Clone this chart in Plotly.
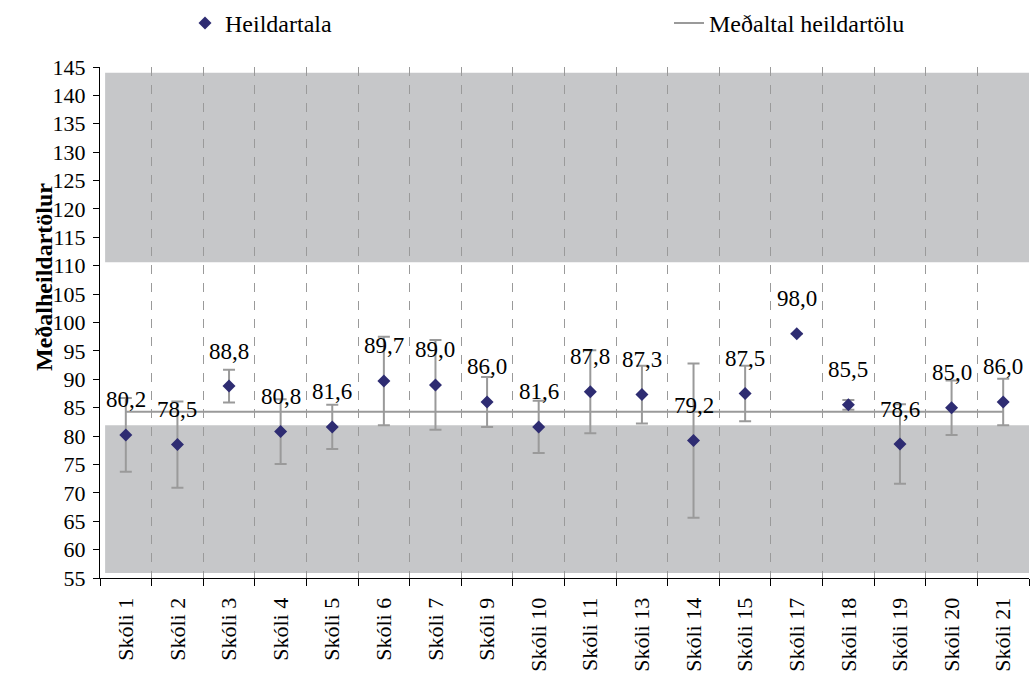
import plotly.graph_objects as go

categories = ["Skóli 1", "Skóli 2", "Skóli 3", "Skóli 4", "Skóli 5", "Skóli 6",
              "Skóli 7", "Skóli 9", "Skóli 10", "Skóli 11", "Skóli 13", "Skóli 14",
              "Skóli 15", "Skóli 17", "Skóli 18", "Skóli 19", "Skóli 20", "Skóli 21"]
values = [80.2, 78.5, 88.8, 80.8, 81.6, 89.7, 89.0, 86.0, 81.6, 87.8, 87.3, 79.2,
          87.5, 98.0, 85.5, 78.6, 85.0, 86.0]
errors = [6.5, 7.6, 2.9, 5.7, 3.9, 7.8, 7.9, 4.4, 4.6, 7.3, 5.1, 13.6,
          4.9, 0.0, 0.85, 7.0, 4.8, 4.1]
mean_value = 84.3
mean_values = [mean_value] * len(categories)
band_low = [55.9, 81.9]
band_high = [110.6, 144.0]
y_ticks = list(range(55, 150, 5))

FONT = "Liberation Serif, Times New Roman, serif"
fig = go.Figure()

fig.add_trace(go.Scatter(
    x=categories, y=mean_values, mode="lines", name="Meðaltal heildartölu",
    line=dict(color="#9A9A9A", width=2), legend="legend2", hoverinfo="skip"))

fig.add_trace(go.Scatter(
    x=categories, y=values, mode="markers", name="Heildartala",
    marker=dict(symbol="diamond", size=10, color="#2E2C72"),
    error_y=dict(type="data", array=errors, visible=True, color="#9A9A9A",
                 thickness=2, width=6),
    legend="legend"))

for band in (band_low, band_high):
    fig.add_shape(type="rect", xref="paper", yref="y", x0=0.0055, x1=1,
                  y0=band[0], y1=band[1], fillcolor="#C6C7C9",
                  line=dict(width=0), layer="between")

for c, v in zip(categories, values):
    fig.add_annotation(x=c, y=v, text=f"{v:.1f}".replace(".", ","),
                       showarrow=False, yshift=35, yanchor="middle",
                       font=dict(family=FONT, size=23, color="black"))

fig.add_annotation(xref="paper", yref="paper", x=(44 - 100) / 929, y=(578 - 274) / 516,
                   text="<b>Meðalheildartölur</b>", showarrow=False, textangle=-90,
                   xanchor="center", yanchor="middle",
                   font=dict(family=FONT, size=24, color="black"))

fig.update_layout(
    width=1030, height=673,
    margin=dict(l=100, r=1, t=62, b=95),
    paper_bgcolor="white", plot_bgcolor="white",
    font=dict(family=FONT, size=22, color="black"),
    showlegend=True,
    legend=dict(orientation="h", x=(185 - 100) / 929, y=(578 - 18) / 516,
                xanchor="left", yanchor="middle", font=dict(family=FONT, size=24),
                bgcolor="rgba(0,0,0,0)"),
    legend2=dict(orientation="h", x=(669 - 100) / 929, y=(578 - 18) / 516,
                 xanchor="left", yanchor="middle", font=dict(family=FONT, size=24),
                 bgcolor="rgba(0,0,0,0)"),
    xaxis=dict(type="category", tickson="boundaries", ticks="outside", ticklen=7,
               tickcolor="black", showline=True, linecolor="black", linewidth=1,
               showgrid=True, gridcolor="#9A9A9A", griddash="dash", gridwidth=1,
               tickangle=-90, ticklabelstandoff=10,
               tickfont=dict(family=FONT, size=22), range=[-0.5, 17.5]),
    yaxis=dict(range=[55, 145], tickvals=y_ticks, ticks="outside", ticklen=6,
               tickcolor="black", showline=True, linecolor="black", linewidth=1,
               showgrid=False, zeroline=False, ticklabelstandoff=3,
               tickfont=dict(family=FONT, size=22)),
)

fig.write_html("out.html")
